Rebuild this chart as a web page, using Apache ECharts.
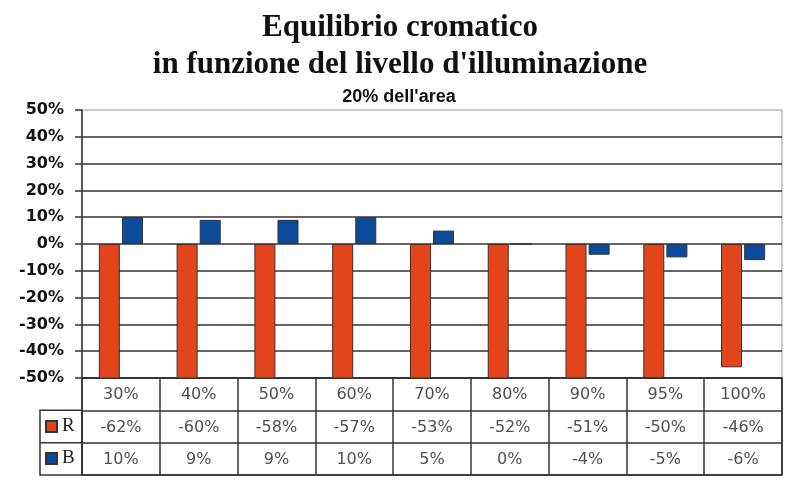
<!DOCTYPE html>
<html>
<head>
<meta charset="utf-8">
<script src="https://cdn.jsdelivr.net/npm/echarts@6/dist/echarts.min.js"></script>
<style>
  html, body { margin: 0; padding: 0; background: #fff; }
  #chart { width: 800px; height: 491px; }
</style>
</head>
<body>
<div id="chart"></div>
<script>
// dati
const categories = ['30%', '40%', '50%', '60%', '70%', '80%', '90%', '95%', '100%'];
const valuesR = [-62, -60, -58, -57, -53, -52, -51, -50, -46];
const valuesB = [10, 9, 9, 10, 5, 0, -4, -5, -6];
const tableRows = ['livello', 'R', 'B'];
const yMin = -50;
const yMax = 50;
const yStep = 10;

const colorR = '#E4441C';
const colorB = '#0C4A9A';
const lineDark = '#333';

// celle della tabella: [colonna, riga, testo]
const tableCells = [];
categories.forEach((c, i) => {
  tableCells.push([i, 0, c]);
  tableCells.push([i, 1, valuesR[i] + '%']);
  tableCells.push([i, 2, valuesB[i] + '%']);
});

const chart = echarts.init(document.getElementById('chart'));

chart.setOption({
  animation: false,
  backgroundColor: '#fff',
  title: [
    {
      text: "Equilibrio cromatico\nin funzione del livello d'illuminazione",
      left: 395,
      top: 4,
      textAlign: 'center',
      textStyle: {
        fontFamily: 'Liberation Serif',
        fontWeight: 'bold',
        fontSize: 31,
        lineHeight: 37,
        color: '#111'
      }
    },
    {
      text: "20% dell'area",
      left: 394,
      top: 83,
      textAlign: 'center',
      textStyle: {
        fontFamily: 'Liberation Sans',
        fontWeight: 'bold',
        fontSize: 18,
        color: '#111'
      }
    }
  ],
  legend: {
    data: ['R', 'B'],
    orient: 'vertical',
    left: 45,
    top: 417,
    padding: 0,
    itemWidth: 11,
    itemHeight: 11,
    itemGap: 13,
    icon: 'rect',
    textStyle: {
      fontFamily: 'Liberation Serif',
      fontSize: 19,
      color: '#222'
    }
  },
  grid: [
    {
      left: 82, right: 18, top: 110, height: 268,
      show: true, borderColor: '#999', borderWidth: 1
    },
    {
      left: 82, right: 18, top: 378, height: 97,
      show: true, borderColor: lineDark, borderWidth: 1.5
    }
  ],
  xAxis: [
    {
      gridIndex: 0,
      type: 'category',
      data: categories,
      axisLine: { show: false },
      axisTick: { show: false },
      axisLabel: { show: false }
    },
    {
      gridIndex: 1,
      type: 'category',
      data: categories,
      axisLine: { show: false },
      axisTick: { show: false },
      axisLabel: { show: false },
      splitLine: { show: true, interval: 0, lineStyle: { color: lineDark, width: 1.5 } }
    }
  ],
  yAxis: [
    {
      gridIndex: 0,
      type: 'value',
      min: yMin,
      max: yMax,
      interval: yStep,
      axisLine: { show: true, lineStyle: { color: lineDark, width: 1.5 } },
      axisTick: { show: true, length: 7, lineStyle: { color: lineDark, width: 1.5 } },
      axisLabel: {
        formatter: '{value}%',
        margin: 18,
        fontFamily: 'DejaVu Sans',
        fontWeight: 'bold',
        fontSize: 16,
        color: '#111'
      },
      splitLine: {
        show: true,
        showMaxLine: false,
        lineStyle: { color: lineDark, width: 1.5 }
      }
    },
    {
      gridIndex: 1,
      type: 'category',
      data: tableRows,
      inverse: true,
      axisLine: { show: false },
      axisTick: { show: false },
      axisLabel: { show: false },
      splitLine: { show: true, interval: 0, lineStyle: { color: lineDark, width: 1.5 } }
    }
  ],
  series: [
    {
      name: 'R',
      type: 'bar',
      data: valuesR,
      barWidth: 21,
      barGap: '10%',
      clip: true,
      itemStyle: { color: colorR, borderColor: lineDark, borderWidth: 1 }
    },
    {
      name: 'B',
      type: 'bar',
      data: valuesB,
      barWidth: 21,
      barGap: '10%',
      clip: true,
      itemStyle: { color: colorB, borderColor: lineDark, borderWidth: 1 }
    },
    {
      name: 'tabella',
      type: 'scatter',
      xAxisIndex: 1,
      yAxisIndex: 1,
      data: tableCells,
      symbolSize: 1,
      itemStyle: { color: 'rgba(0,0,0,0)' },
      silent: true,
      label: {
        show: true,
        position: 'inside',
        offset: [0, 1],
        formatter: (p) => p.data[2],
        fontFamily: 'DejaVu Sans',
        fontSize: 16,
        color: '#222'
      }
    }
  ],
  // riquadro della colonna legenda
  graphic: [
    {
      type: 'rect',
      shape: { x: 40, y: 410.3, width: 42, height: 64.7 },
      style: { fill: 'none', stroke: lineDark, lineWidth: 1.5 }
    },
    {
      type: 'line',
      shape: { x1: 40, y1: 442.7, x2: 82, y2: 442.7 },
      style: { stroke: lineDark, lineWidth: 1.5 }
    }
  ]
});
</script>
</body>
</html>
